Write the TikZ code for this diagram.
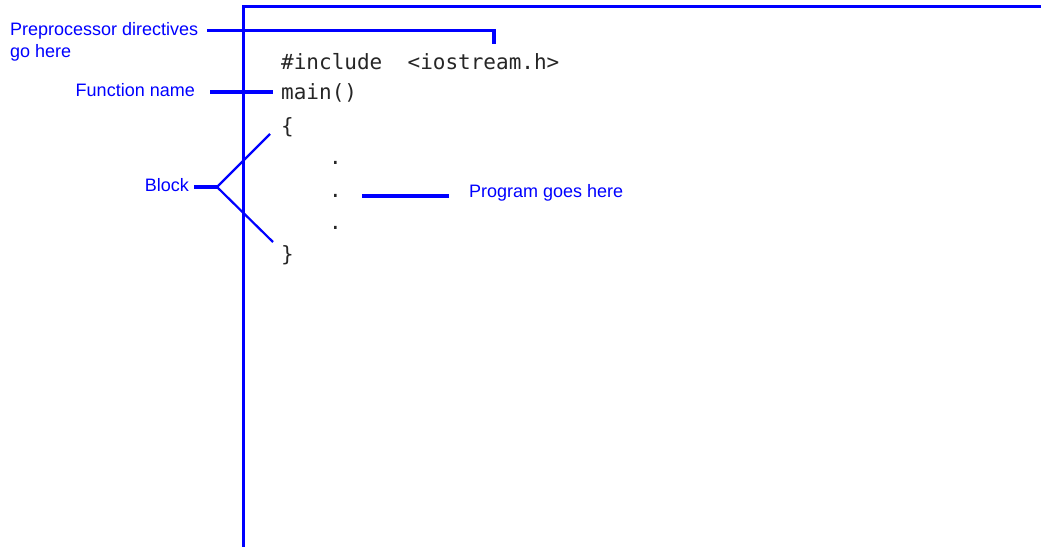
\documentclass[tikz,border=0pt]{standalone}
\usepackage{fontspec}
\setmainfont{Liberation Sans}
\newfontfamily\codefont{DejaVu Sans Mono}
\begin{document}
\begin{tikzpicture}[x=1pt,y=-1pt,
  lbl/.style={text=blue,font=\fontsize{18}{22}\selectfont,inner sep=0pt},
  code/.style={text=black!85,font=\codefont\fontsize{21}{24}\selectfont,inner sep=0pt,anchor=west},
  conn/.style={draw=blue,line width=3.2pt},
  thin/.style={draw=blue,line width=2.2pt},
  frame/.style={draw=blue,line width=3pt}]
\useasboundingbox (0,0) rectangle (1041,546);
% frame
\draw[frame] (1045,6) -- (243.5,6) -- (243.5,550);
% labels
\node[lbl,anchor=west,align=left] (pre) at (10,42) {Preprocessor directives\\go here};
\node[lbl,anchor=east] (fn) at (195,90) {Function name};
\node[lbl,anchor=east] (blk) at (189,185) {Block};
\node[lbl,anchor=west] (prog) at (469,193) {Program goes here};
% code
\node[code] (inc) at (281,62) {\#include\ \ <iostream.h>};
\node[code] (mn) at (281,93) {main()};
\node[code] (lb) at (281,127) {\{};
\node[code] (rb) at (281,255) {\}};
\node[code] (d1) at (329,163) {.};
\node[code] (d2) at (329,196) {.};
\node[code] (d3) at (329,228) {.};
% helper coordinates
\coordinate (preA) at (207,30.5);
\coordinate (preB) at (494,30.5);
\coordinate (preC) at (494,44);
\coordinate (fnA) at (210,92);
\coordinate (fnB) at (273,92);
\coordinate (bA) at (194,187);
\coordinate (bJ) at (217,187);
\coordinate (bT) at (270,134);
\coordinate (bB) at (273,242);
\coordinate (pA) at (362,196);
\coordinate (pB) at (449,196);
% connectors
\draw[conn] (preA) -- (preB) -- (preC);
\draw[conn] (fnA) -- (fnB);
\draw[conn] (bA) -- (bJ);
\draw[thin] (bT) -- (bJ) -- (bB);
\draw[conn] (pA) -- (pB);
\end{tikzpicture}
\end{document}
